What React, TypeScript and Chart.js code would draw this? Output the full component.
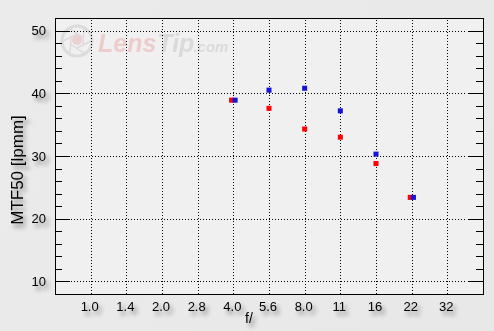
import React, { useEffect, useRef } from "react";
import { Chart, registerables } from "chart.js";

Chart.register(...registerables);

const apertures = ["1.0", "1.4", "2.0", "2.8", "4.0", "5.6", "8.0", "11", "16", "22", "32"];
const measuredApertures = ["4.0", "5.6", "8.0", "11", "16", "22"];
const redValues = [38.9, 37.6, 34.3, 33.0, 28.8, 23.4];
const blueValues = [38.9, 40.5, 40.8, 37.2, 30.3, 23.4];
const redJitter = [-0.05, 0, 0, 0, 0, -0.04];
const blueJitter = [0.05, 0, 0, 0, 0, 0.05];
const yTicks = [10, 20, 30, 40, 50];
const yMinorTicks = [10, 12, 14, 16, 18, 20, 22, 24, 26, 28, 30, 32, 34, 36, 38, 40, 42, 44, 46, 48, 50];
const yTitle = "MTF50 [lpmm]";
const xTitle = "f/";

const W = 494;
const H = 331;
const FONT = '"Liberation Sans", Arial, sans-serif';

function withShadow(ctx: CanvasRenderingContext2D, fn: () => void) {
  ctx.save();
  ctx.shadowColor = "rgba(0,0,0,0.45)";
  ctx.shadowOffsetX = 3;
  ctx.shadowOffsetY = 4;
  ctx.shadowBlur = 4;
  fn();
  ctx.restore();
}

const decorPlugin = {
  id: "decor",
  beforeDraw(chart: any) {
    const { ctx, chartArea: a } = chart;
    ctx.save();
    const g = ctx.createLinearGradient(0, 0, W, H);
    g.addColorStop(0, "#ebebeb");
    g.addColorStop(1, "#e8e8e8");
    ctx.fillStyle = g;
    ctx.fillRect(0, 0, W, H);
    ctx.fillStyle = "#f0f0f0";
    ctx.fillRect(a.left, a.top, a.right - a.left, a.bottom - a.top);

    // watermark
    const cx = 77, cy = 41;
    ctx.strokeStyle = "#dcdcdc";
    ctx.lineWidth = 3;
    ctx.beginPath();
    ctx.arc(cx, cy, 15, 0, Math.PI * 2);
    ctx.stroke();
    ctx.lineWidth = 1.5;
    for (let k = 0; k < 6; k++) {
      const ang = (k * Math.PI) / 3;
      ctx.beginPath();
      ctx.moveTo(cx + Math.cos(ang) * 14, cy + Math.sin(ang) * 14);
      ctx.lineTo(cx + Math.cos(ang + 1.6) * 7, cy + Math.sin(ang + 1.6) * 7);
      ctx.stroke();
    }
    ctx.fillStyle = "#ecd0d0";
    ctx.beginPath();
    ctx.arc(cx, cy - 1, 5, 0, Math.PI * 2);
    ctx.fill();
    ctx.font = `italic bold 25px ${FONT}`;
    ctx.textBaseline = "alphabetic";
    ctx.textAlign = "left";
    ctx.fillStyle = "#edcccc";
    ctx.fillText("Lens", 98, 52);
    const lw = ctx.measureText("Lens").width;
    ctx.fillStyle = "#dadada";
    ctx.fillText("Tip", 98 + lw + 1, 52);
    const tw = ctx.measureText("Tip").width;
    ctx.font = `italic bold 15px ${FONT}`;
    ctx.fillText(".com", 98 + lw + tw, 52);
    ctx.restore();
  },
  beforeDatasetsDraw(chart: any) {
    const { ctx, chartArea: a, scales } = chart;
    const xs = scales.x, ys = scales.y;
    ctx.save();
    ctx.strokeStyle = "#000";
    ctx.lineWidth = 1;
    ctx.setLineDash([1, 2]);
    apertures.forEach((_, i) => {
      const x = Math.round(xs.getPixelForValue(i)) + 0.5;
      ctx.beginPath();
      ctx.moveTo(x, a.top + 2);
      ctx.lineTo(x, a.bottom);
      ctx.stroke();
    });
    yTicks.forEach((v) => {
      const y = Math.round(ys.getPixelForValue(v)) + 0.5;
      ctx.beginPath();
      ctx.moveTo(a.left + 16, y);
      ctx.lineTo(a.right - 16, y);
      ctx.stroke();
    });
    ctx.restore();
  },
  afterDraw(chart: any) {
    const { ctx, chartArea: a, scales } = chart;
    const xs = scales.x, ys = scales.y;
    ctx.save();
    ctx.strokeStyle = "#000";
    ctx.lineWidth = 1;
    ctx.setLineDash([]);
    yMinorTicks.forEach((v) => {
      const y = Math.round(ys.getPixelForValue(v)) + 0.5;
      const len = v % 10 === 0 ? 15 : 7;
      ctx.beginPath();
      ctx.moveTo(a.left, y);
      ctx.lineTo(a.left + len, y);
      ctx.moveTo(a.right, y);
      ctx.lineTo(a.right - len, y);
      ctx.stroke();
    });
    ctx.strokeRect(Math.round(a.left) + 0.5, Math.round(a.top) + 0.5, Math.round(a.right - a.left), Math.round(a.bottom - a.top));
    ctx.restore();

    withShadow(ctx, () => {
      ctx.fillStyle = "#000";
      ctx.font = `13px ${FONT}`;
      ctx.textAlign = "right";
      ctx.textBaseline = "middle";
      yTicks.forEach((v) => {
        ctx.fillText(String(v), a.left - 9, ys.getPixelForValue(v) + 1);
      });
      ctx.textAlign = "center";
      apertures.forEach((lab, i) => {
        ctx.fillText(lab, xs.getPixelForValue(i) - 1, a.bottom + 13);
      });
      ctx.font = `14px ${FONT}`;
      ctx.fillText(xTitle, (a.left + a.right) / 2 - 20, a.bottom + 25);
      ctx.save();
      ctx.translate(18, 170);
      ctx.rotate(-Math.PI / 2);
      ctx.font = `17px ${FONT}`;
      ctx.fillText(yTitle, 0, 0);
      ctx.restore();
    });
  },
};

export default function App() {
  const ref = useRef<HTMLCanvasElement>(null);
  useEffect(() => {
    document.body.style.margin = "0";
    const idx = (a: string) => apertures.indexOf(a);
    const chart = new Chart(ref.current!, {
      type: "scatter",
      data: {
        datasets: [
          {
            label: "blue",
            data: measuredApertures.map((a, i) => ({ x: idx(a) + blueJitter[i], y: blueValues[i] })),
            backgroundColor: "#1414d8",
            borderWidth: 0,
            pointStyle: "rect",
            pointRadius: 3.55,
          },
          {
            label: "red",
            data: measuredApertures.map((a, i) => ({ x: idx(a) + redJitter[i], y: redValues[i] })),
            backgroundColor: "#ff0000",
            borderWidth: 0,
            pointStyle: "rect",
            pointRadius: 3.55,
          },
        ],
      },
      options: {
        responsive: false,
        animation: false,
        layout: { padding: { top: 18, right: 11, left: 0, bottom: 0 } },
        plugins: { legend: { display: false }, tooltip: { enabled: false } },
        scales: {
          x: {
            type: "linear",
            min: -1,
            max: apertures.length,
            grid: { display: false },
            border: { display: false },
            ticks: { display: false },
            afterFit: (s: any) => { s.height = 37; },
          },
          y: {
            min: 8,
            max: 52,
            grid: { display: false },
            border: { display: false },
            ticks: { display: false },
            afterFit: (s: any) => { s.width = 55; },
          },
        },
      },
      plugins: [decorPlugin],
    });
    return () => chart.destroy();
  }, []);
  return (
    <div style={{ width: W, height: H }}>
      <canvas ref={ref} width={W} height={H} style={{ display: "block" }} />
    </div>
  );
}
